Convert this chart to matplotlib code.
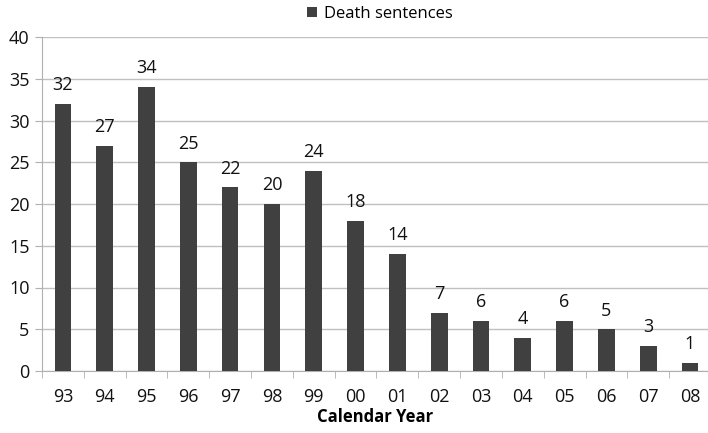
import numpy as np
import matplotlib
matplotlib.use("Agg")
import matplotlib.pyplot as plt

years = ["93", "94", "95", "96", "97", "98", "99", "00", "01", "02", "03", "04", "05", "06", "07", "08"]
death_sentences = [32, 27, 34, 25, 22, 20, 24, 18, 14, 7, 6, 4, 6, 5, 3, 1]

plt.rcParams["font.family"] = ["Open Sans", "DejaVu Sans"]

fig = plt.figure(figsize=(7.08, 4.33), dpi=100)
ax = fig.add_axes([42 / 708, 1 - 371 / 433, 666 / 708, (371 - 37) / 433])

x = np.arange(len(years))
bars = ax.bar(x, death_sentences, width=0.4, color="#404040", label="Death sentences", zorder=3)

for xi, v in zip(x, death_sentences):
    ax.annotate(str(v), (xi, v), xytext=(0, 7), textcoords="offset points",
                ha="center", va="bottom", fontsize=13, color="#111111")

ax.set_xlim(-0.5, 15.43)
ax.set_ylim(0, 40)
ax.set_yticks(range(0, 41, 5))
ax.set_xticks(x)
ax.set_xticklabels(years)
ax.set_xticks(np.arange(-0.5, 15.5, 1), minor=True)
ax.tick_params(axis="x", which="major", length=0, pad=12, labelsize=13, labelcolor="#111111")
ax.tick_params(axis="x", which="minor", length=5, color="#b0b0b0", direction="out")
ax.tick_params(axis="y", length=5, color="#b0b0b0", labelsize=13, labelcolor="#111111", pad=4)

ax.grid(axis="y", color="#c0c0c0", linewidth=1, zorder=0)
for side in ["top", "right"]:
    ax.spines[side].set_visible(False)
for side in ["left", "bottom"]:
    ax.spines[side].set_color("#b0b0b0")

ax.set_xlabel("Calendar Year", fontsize=12, fontweight="bold", labelpad=2)

fig.legend(handles=[bars], labels=["Death sentences"], loc="center", bbox_to_anchor=(380 / 708, 1 - 14 / 433),
           frameon=False, fontsize=12, handlelength=0.6, handleheight=0.6, handletextpad=0.4)

fig.savefig("out.png", dpi=100)
